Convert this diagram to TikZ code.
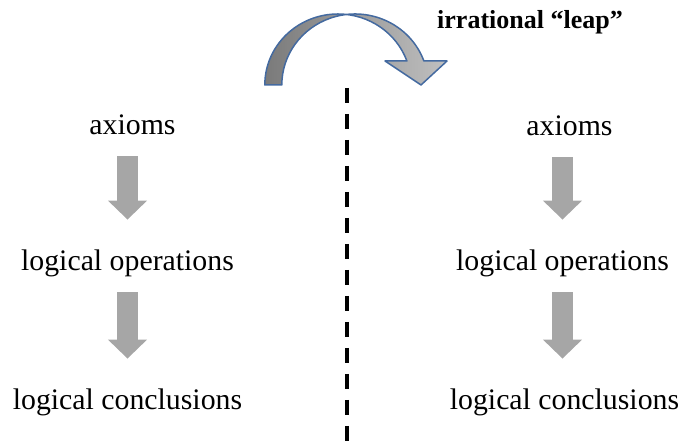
\documentclass[tikz,border=0pt]{standalone}
\usepackage{fontspec}
\setmainfont{Liberation Serif}
\usepackage{tikz}
\usetikzlibrary{arrows.meta, calc}
\definecolor{arrowgray}{RGB}{166,166,166}
\definecolor{leapdark}{RGB}{122,122,122}
\definecolor{leaplight}{RGB}{192,192,192}
\definecolor{leapedge}{RGB}{68,106,160}
\tikzset{>=Latex}

\begin{document}
\begin{tikzpicture}[x=0.5pt,y=0.5pt]

         %%%%%%%%%%%%%%%%%%%%%%%%%%%%%%%%%%%%%%%%%%%%%%%%%%%%%%%%%%%%%%%%%%%%%%
         % Parameter
         %%%%%%%%%%%%%%%%%%%%%%%%%%%%%%%%%%%%%%%%%%%%%%%%%%%%%%%%%%%%%%%%%%%%%%
         \def\xdiv{347}
         \def\ytop{354}
         \def\rx{73.2}
         \def\ry{71}
         \def\legangle{19.76}

         \useasboundingbox (0,0) rectangle (679,442);

         % Stile fuer Texte und Blockpfeile
         \tikzset{
            step text/.style={
            anchor=base,
            inner sep=0pt,
            text height=10pt,
            text depth=3pt,
            font=\fontsize{14.9}{17}\selectfont
            },
            blockarr/.style={
            arrowgray,
            line width=10.5pt,
            -{Triangle[width=19pt,length=9.5pt]},
            shorten <=7.5pt,
            shorten >=15.5pt
            },
            divider/.style={
            line width=2pt,
            dash pattern=on 7.5pt off 5.5pt
            },
            leapshape/.style={
            draw=leapedge,
            line width=0.75pt,
            line join=round,
            left color=leapdark,
            right color=leaplight
            }
         }

         %%%%%%%%%%%%%%%%%%%%%%%%%%%%%%%%%%%%%%%%%%%%%%%%%%%%%%%%%%%%%%%%%%%%%%
         % Trennlinie
         %%%%%%%%%%%%%%%%%%%%%%%%%%%%%%%%%%%%%%%%%%%%%%%%%%%%%%%%%%%%%%%%%%%%%%
         \coordinate (DivTop) at (\xdiv,\ytop);
         \coordinate (DivBot) at (\xdiv,0);
         \draw[divider] (DivTop) -- (DivBot);

         %%%%%%%%%%%%%%%%%%%%%%%%%%%%%%%%%%%%%%%%%%%%%%%%%%%%%%%%%%%%%%%%%%%%%%
         % Linke Spalte
         %%%%%%%%%%%%%%%%%%%%%%%%%%%%%%%%%%%%%%%%%%%%%%%%%%%%%%%%%%%%%%%%%%%%%%
         \node[step text] (AxL) at (132.5,307) {axioms};
         \node[step text] (OpL) at (127.5,171) {logical operations};
         \node[step text] (CoL) at (127.5,32)  {logical conclusions};

         \draw[blockarr] (AxL.south -| OpL) -- (OpL.north);
         \draw[blockarr] (OpL.south) -- (CoL.north -| OpL);

         %%%%%%%%%%%%%%%%%%%%%%%%%%%%%%%%%%%%%%%%%%%%%%%%%%%%%%%%%%%%%%%%%%%%%%
         % Rechte Spalte
         %%%%%%%%%%%%%%%%%%%%%%%%%%%%%%%%%%%%%%%%%%%%%%%%%%%%%%%%%%%%%%%%%%%%%%
         \node[step text] (AxR) at (569.5,306) {axioms};
         \node[step text] (OpR) at (562.5,171) {logical operations};
         \node[step text] (CoR) at (564.5,32)  {logical conclusions};

         \draw[blockarr] (AxR.south -| OpR) -- (OpR.north);
         \draw[blockarr] (OpR.south) -- (CoR.north -| OpR);

         %%%%%%%%%%%%%%%%%%%%%%%%%%%%%%%%%%%%%%%%%%%%%%%%%%%%%%%%%%%%%%%%%%%%%%
         % Gebogener Pfeil (Sprung)
         %%%%%%%%%%%%%%%%%%%%%%%%%%%%%%%%%%%%%%%%%%%%%%%%%%%%%%%%%%%%%%%%%%%%%%
         \coordinate (LeapA) at (338,357);
         \coordinate (LeapB) at (355,357);

         \path[leapshape]
         ($(LeapA)+(-\rx,0)$)
         arc[start angle=180, end angle=\legangle, x radius=\rx, y radius=\ry]
         -- (385,381) -- (421,357) -- (447,381)
         -- ($(LeapB)+(\legangle:{\rx} and {\ry})$)
         arc[start angle=\legangle, end angle=180, x radius=\rx, y radius=\ry]
         -- cycle;

         \node[anchor=base, inner sep=0pt, font=\fontsize{13}{15}\selectfont\bfseries]
         (Leap) at (530,413) {irrational “leap”};

\end{tikzpicture}
\end{document}
